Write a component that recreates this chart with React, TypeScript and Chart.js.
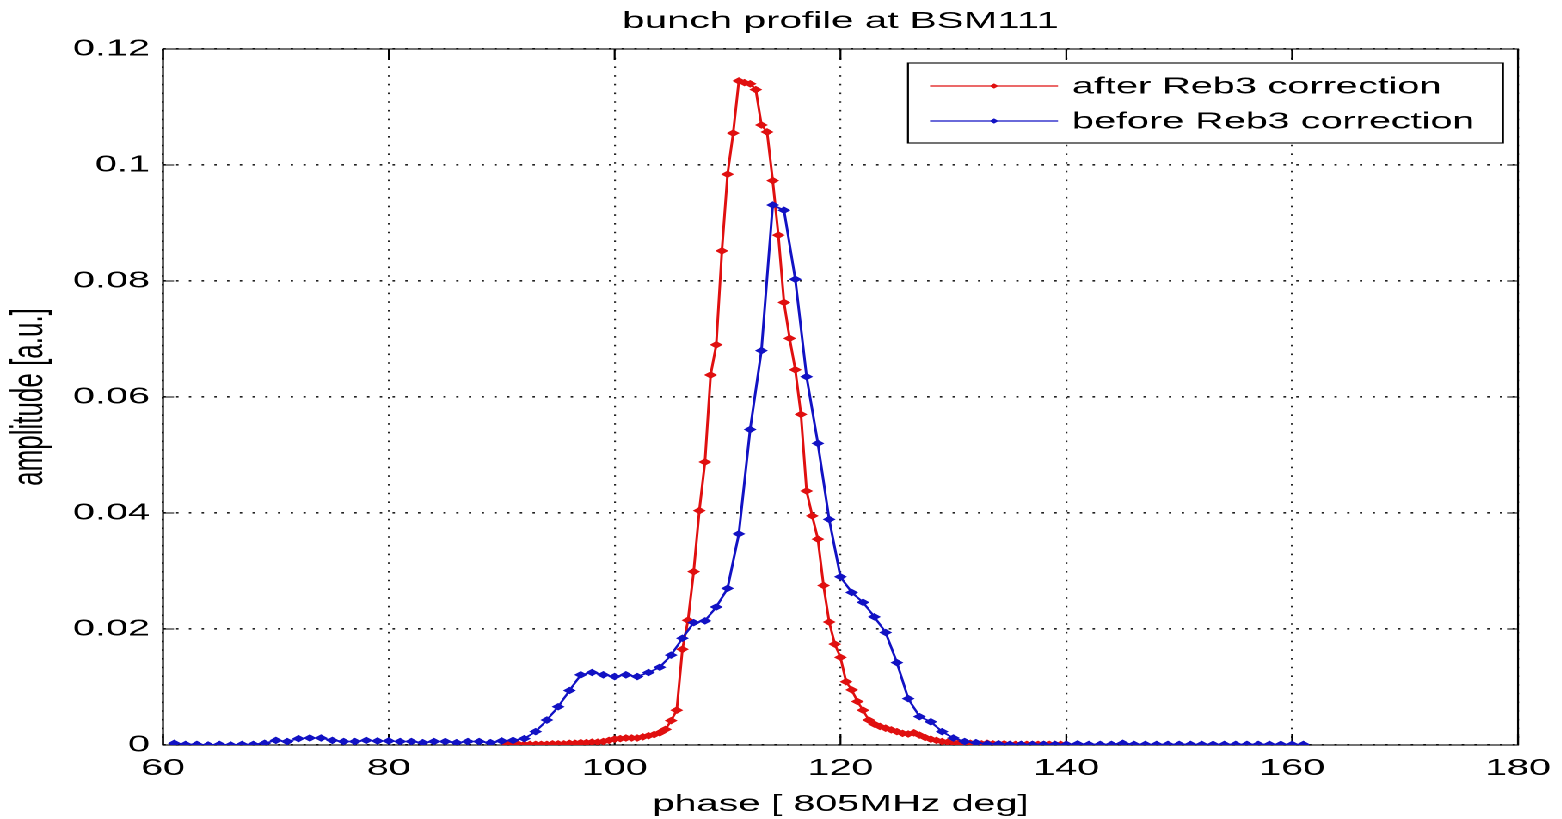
import React, { useEffect, useRef } from 'react';
import { Chart, registerables } from 'chart.js';

Chart.register(...registerables);

// The figure is drawn on a narrower canvas and widened horizontally with CSS.
const STRETCH = 1.72;
const PAGE_W = 1562;
const PAGE_H = 819;
const CANVAS_W = PAGE_W / STRETCH;

const FONT = "'Liberation Sans', Arial, Helvetica, sans-serif";

const titleText = 'bunch profile at BSM111';
const xLabel = 'phase [ 805MHz deg]';
const yLabel = 'amplitude [a.u.]';

const seriesLabels = ['after Reb3 correction', 'before Reb3 correction'];
const seriesColors = ['#e01010', '#1212c4'];

const xTicks = [60, 80, 100, 120, 140, 160, 180];
const yTicks = [0, 0.02, 0.04, 0.06, 0.08, 0.1, 0.12];

// after correction: phase [deg] and amplitude [a.u.]
const afterPhase = [
  90.5, 91, 91.5, 92, 92.5, 93, 93.5, 94, 94.5, 95,
  95.5, 96, 96.5, 97, 97.5, 98, 98.5, 99, 99.5, 100,
  100.5, 101, 101.5, 102, 102.5, 103, 103.5, 104, 104.5, 105,
  105.5, 106, 106.5, 107, 107.5, 108, 108.5, 109, 109.5, 110,
  110.5, 111, 111.5, 112, 112.5, 113, 113.5, 114, 114.5, 115,
  115.5, 116, 116.5, 117, 117.5, 118, 118.5, 119, 119.5, 120,
  120.5, 121, 121.5, 122, 122.5, 123, 123.5, 124, 124.5, 125,
  125.5, 126, 126.5, 127, 127.5, 128, 128.5, 129, 129.5, 130,
  130.5, 131, 131.5, 132, 132.5, 133, 133.5, 134, 134.5, 135,
  135.5, 136, 136.5, 137, 137.5, 138, 138.5, 139, 139.5, 140,
];
const afterAmp = [
  0.0001, 0.0001, 0.0001, 0.0001, 0.0001, 0.0001, 0.0001, 0.0001, 0.0002, 0.0002,
  0.0002, 0.0003, 0.0003, 0.0004, 0.0004, 0.0005, 0.0005, 0.0006, 0.0008, 0.0010,
  0.0011, 0.0012, 0.0012, 0.0012, 0.0014, 0.0016, 0.0018, 0.0021, 0.0027, 0.0042,
  0.0060, 0.0165, 0.0215, 0.0299, 0.0404, 0.0488, 0.0638, 0.0690, 0.0852, 0.0984,
  0.1055, 0.1145, 0.1142, 0.1140, 0.1130, 0.1069, 0.1057, 0.0973, 0.0879, 0.0763,
  0.0701, 0.0647, 0.0570, 0.0438, 0.0395, 0.0355, 0.0275, 0.0212, 0.0174, 0.0151,
  0.0109, 0.0095, 0.0075, 0.0060, 0.0043, 0.0036, 0.0032, 0.0029, 0.0026, 0.0023,
  0.0020, 0.0019, 0.0021, 0.0017, 0.0013, 0.0010, 0.0008, 0.0006, 0.0005, 0.0004,
  0.0004, 0.0003, 0.0003, 0.0003, 0.0002, 0.0003, 0.0002, 0.0002, 0.0002, 0.0001,
  0.0001, 0.0001, 0.0001, 0.0001, 0.0001, 0.0001, 0.0001, 0.0001, 0.0001, 0.0001,
];

// before correction: phase [deg] and amplitude [a.u.]
const beforePhase = [
  61, 62, 63, 64, 65, 66, 67, 68, 69, 70,
  71, 72, 73, 74, 75, 76, 77, 78, 79, 80,
  81, 82, 83, 84, 85, 86, 87, 88, 89, 90,
  91, 92, 93, 94, 95, 96, 97, 98, 99, 100,
  101, 102, 103, 104, 105, 106, 107, 108, 109, 110,
  111, 112, 113, 114, 115, 116, 117, 118, 119, 120,
  121, 122, 123, 124, 125, 126, 127, 128, 129, 130,
  131, 132, 133, 134, 135, 136, 137, 138, 139, 140,
  141, 142, 143, 144, 145, 146, 147, 148, 149, 150,
  151, 152, 153, 154, 155, 156, 157, 158, 159, 160,
  161,
];
const beforeAmp = [
  0.0003, 0.0001, 0.0001, 0.0000, 0.0001, 0.0000, 0.0001, 0.0001, 0.0003, 0.0008,
  0.0006, 0.0011, 0.0012, 0.0012, 0.0008, 0.0006, 0.0006, 0.0008, 0.0007, 0.0007,
  0.0006, 0.0006, 0.0004, 0.0006, 0.0006, 0.0004, 0.0006, 0.0006, 0.0004, 0.0007,
  0.0008, 0.0011, 0.0023, 0.0043, 0.0066, 0.0094, 0.0121, 0.0125, 0.0121, 0.0118,
  0.0121, 0.0118, 0.0125, 0.0134, 0.0155, 0.0184, 0.0211, 0.0214, 0.0238, 0.0270,
  0.0364, 0.0544, 0.0680, 0.0931, 0.0922, 0.0803, 0.0635, 0.0520, 0.0389, 0.0290,
  0.0263, 0.0246, 0.0221, 0.0194, 0.0142, 0.0080, 0.0049, 0.0040, 0.0023, 0.0012,
  0.0006, 0.0004, 0.0002, 0.0002, 0.0001, 0.0001, 0.0001, 0.0001, 0.0001, 0.0001,
  0.0002, 0.0001, 0.0001, 0.0001, 0.0003, 0.0001, 0.0001, 0.0001, 0.0001, 0.0001,
  0.0001, 0.0001, 0.0001, 0.0001, 0.0001, 0.0001, 0.0001, 0.0001, 0.0001, 0.0001,
  0.0001,
];

// Axes frame with inward tick marks on all four sides.
const framePlugin = {
  id: 'axesFrame',
  beforeDatasetsDraw(chart: any) {
    const { ctx, chartArea: a, scales } = chart;
    const xs = scales.x;
    const ys = scales.y;
    ctx.save();
    ctx.strokeStyle = '#000';
    ctx.lineWidth = 1.1;
    ctx.strokeRect(a.left, a.top, a.right - a.left, a.bottom - a.top);
    const tlV = 11;
    const tlH = 11 / STRETCH;
    ctx.beginPath();
    xs.ticks.forEach((t: any) => {
      const px = xs.getPixelForValue(t.value);
      ctx.moveTo(px, a.bottom);
      ctx.lineTo(px, a.bottom - tlV);
      ctx.moveTo(px, a.top);
      ctx.lineTo(px, a.top + tlV);
    });
    ys.ticks.forEach((t: any) => {
      const py = ys.getPixelForValue(t.value);
      ctx.moveTo(a.left, py);
      ctx.lineTo(a.left + tlH, py);
      ctx.moveTo(a.right, py);
      ctx.lineTo(a.right - tlH, py);
    });
    ctx.stroke();
    ctx.restore();
  },
};

function diamond(ctx: CanvasRenderingContext2D, x: number, y: number, r: number) {
  ctx.beginPath();
  ctx.moveTo(x, y - r);
  ctx.lineTo(x + r, y);
  ctx.lineTo(x, y + r);
  ctx.lineTo(x - r, y);
  ctx.closePath();
  ctx.fill();
}

// Boxed legend in the upper right of the axes.
const boxedLegendPlugin = {
  id: 'boxedLegend',
  afterDatasetsDraw(chart: any) {
    const { ctx } = chart;
    const left = 908 / STRETCH;
    const right = 1503 / STRETCH;
    const top = 63;
    const bottom = 143;
    const rows = [86, 121];
    ctx.save();
    ctx.fillStyle = '#ffffff';
    ctx.fillRect(left, top, right - left, bottom - top);
    ctx.strokeStyle = '#000';
    ctx.lineWidth = 1.1;
    ctx.strokeRect(left, top, right - left, bottom - top);
    const lx0 = 930 / STRETCH;
    const lx1 = 1058 / STRETCH;
    const tx = 1072 / STRETCH;
    chart.data.datasets.forEach((ds: any, i: number) => {
      const y = rows[i];
      ctx.strokeStyle = ds.borderColor;
      ctx.lineWidth = 1.3;
      ctx.beginPath();
      ctx.moveTo(lx0, y);
      ctx.lineTo(lx1, y);
      ctx.stroke();
      ctx.fillStyle = ds.borderColor;
      diamond(ctx, (lx0 + lx1) / 2, y, 2.6);
      ctx.fillStyle = '#000';
      ctx.font = `23px ${FONT}`;
      ctx.textAlign = 'left';
      ctx.textBaseline = 'middle';
      ctx.fillText(ds.label, tx, y + 1);
    });
    ctx.restore();
  },
};

function fmtY(v: number): string {
  return String(parseFloat(v.toFixed(2)));
}

export default function App() {
  const canvasRef = useRef<HTMLCanvasElement | null>(null);

  useEffect(() => {
    if (!canvasRef.current) return;
    const afterData = afterPhase.map((p, i) => ({ x: p, y: afterAmp[i] }));
    const beforeData = beforePhase.map((p, i) => ({ x: p, y: beforeAmp[i] }));

    const chart = new Chart(canvasRef.current, {
      type: 'line',
      data: {
        datasets: [
          {
            label: seriesLabels[0],
            data: afterData,
            borderColor: seriesColors[0],
            backgroundColor: seriesColors[0],
            borderWidth: 1.5,
            pointStyle: 'rectRot',
            pointRadius: 3.2,
            pointBorderWidth: 0.8,
            pointBackgroundColor: seriesColors[0],
            pointBorderColor: seriesColors[0],
            tension: 0,
            fill: false,
            order: 1,
          },
          {
            label: seriesLabels[1],
            data: beforeData,
            borderColor: seriesColors[1],
            backgroundColor: seriesColors[1],
            borderWidth: 1.5,
            pointStyle: 'rectRot',
            pointRadius: 3.2,
            pointBorderWidth: 0.8,
            pointBackgroundColor: seriesColors[1],
            pointBorderColor: seriesColors[1],
            tension: 0,
            fill: false,
            order: 0,
          },
        ],
      },
      options: {
        animation: false,
        responsive: true,
        maintainAspectRatio: false,
        devicePixelRatio: 2,
        layout: { padding: { left: 0, right: CANVAS_W - 1518 / STRETCH, top: 0, bottom: 0 } },
        plugins: {
          legend: { display: false },
          tooltip: { enabled: false },
          title: {
            display: true,
            text: titleText,
            fullSize: false,
            color: '#000',
            font: { family: FONT, size: 23.5, weight: 'normal', lineHeight: 1.2 },
            padding: { top: 7.3, bottom: 13.5 },
          },
        },
        scales: {
          x: {
            type: 'linear',
            min: 60,
            max: 180,
            afterBuildTicks: (scale: any) => {
              scale.ticks = xTicks.map((v) => ({ value: v }));
            },
            afterFit: (scale: any) => {
              scale.height = PAGE_H - 745;
              scale.paddingLeft = 0;
              scale.paddingRight = 0;
            },
            ticks: {
              color: '#000',
              font: { family: FONT, size: 23, lineHeight: 1.2 },
              padding: 10,
              maxRotation: 0,
              autoSkip: false,
            },
            grid: {
              color: '#222',
              lineWidth: 1.1,
              drawTicks: false,
            },
            border: { display: false, dash: [1.6, 7.1] },
            title: {
              display: true,
              text: xLabel,
              color: '#000',
              font: { family: FONT, size: 23, lineHeight: 1.2 },
              padding: { top: 0, bottom: 0.5 },
            },
          },
          y: {
            type: 'linear',
            min: 0,
            max: 0.12,
            afterBuildTicks: (scale: any) => {
              scale.ticks = yTicks.map((v) => ({ value: v }));
            },
            afterFit: (scale: any) => {
              scale.width = 163 / STRETCH;
              scale.paddingTop = 0;
              scale.paddingBottom = 0;
            },
            ticks: {
              color: '#000',
              font: { family: FONT, size: 23, lineHeight: 1.2 },
              padding: 7.6,
              autoSkip: false,
              callback: (v: any) => fmtY(Number(v)),
            },
            grid: {
              color: '#222',
              lineWidth: 1.6,
              drawTicks: false,
            },
            border: { display: false, dash: [1.4, 6.0] },
            title: {
              display: true,
              text: yLabel,
              color: '#000',
              font: { family: FONT, size: 26, lineHeight: 1.2 },
              padding: { top: 1.8, bottom: 0 },
            },
          },
        },
      },
      plugins: [framePlugin, boxedLegendPlugin],
    } as any);

    return () => chart.destroy();
  }, []);

  return (
    <div
      style={{
        position: 'absolute',
        left: 0,
        top: 0,
        width: `${CANVAS_W}px`,
        height: `${PAGE_H}px`,
        transform: `scaleX(${STRETCH})`,
        transformOrigin: '0 0',
        background: '#fff',
      }}
    >
      <canvas ref={canvasRef} />
    </div>
  );
}
